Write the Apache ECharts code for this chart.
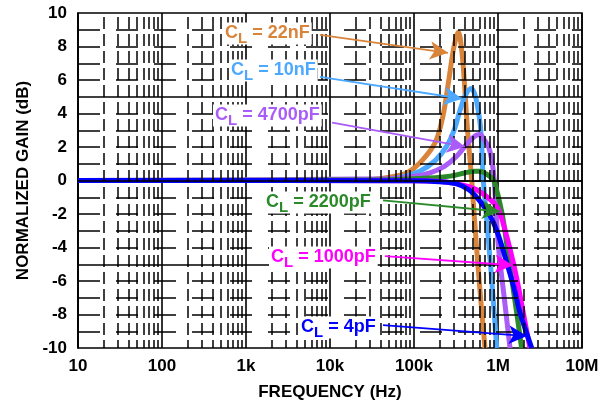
<!DOCTYPE html>
<html>
<head>
<meta charset="utf-8">
<script src="https://cdn.jsdelivr.net/npm/echarts@6/dist/echarts.min.js"></script>
<style>
  html, body { margin: 0; padding: 0; background: #fff; }
  #chart { width: 607px; height: 406px; }
</style>
</head>
<body>
<div id="chart"></div>
<script>
// gain curves: [frequency Hz, normalized gain dB]
const cl22nF = [[10, 0], [1e4, 0], [3e4, 0.05], [6e4, 0.25], [8.5e4, 0.5], [1.2e5, 1.1], [1.78e5, 2.25], [2.2e5, 3.8],
  [2.56e5, 5.8], [2.94e5, 7.8], [3.2e5, 8.6], [3.37e5, 8.85], [3.55e5, 8.5], [3.86e5, 6.8], [4.31e5, 3.2],
  [4.64e5, 1.25], [4.86e5, 0.05], [5.3e5, -2.6], [5.8e5, -5.2], [6.4e5, -7.8], [7.0e5, -10]]
const cl10nF = [[10, 0], [3e4, 0], [7e4, 0.2], [1.17e5, 0.55], [1.8e5, 1.2], [2.45e5, 2.05], [3.05e5, 3.1], [3.53e5, 4.2],
  [4.1e5, 5.1], [4.78e5, 5.5], [5.4e5, 5.0], [6.11e5, 3.45], [6.4e5, 2.04], [6.68e5, 0.06], [7.33e5, -2.3],
  [8.41e5, -5.9], [9.66e5, -10]]
const cl4700pF = [[10, 0], [5e4, 0.1], [1e5, 0.25], [1.55e5, 0.46], [2.3e5, 0.85], [3.22e5, 1.45], [4.3e5, 2.2],
  [5.3e5, 2.65], [6.11e5, 2.74], [6.9e5, 2.4], [7.68e5, 2.04], [8.41e5, 1.25], [9.0e5, 0.06], [1.01e6, -3.9],
  [1.18e6, -6.9], [1.39e6, -10]]
const cl2200pF = [[10, 0], [5e4, 0.05], [1.5e5, 0.15], [2.69e5, 0.26], [4e5, 0.45], [5.3e5, 0.55], [6.11e5, 0.55],
  [7.2e5, 0.4], [8.2e5, 0.2], [9.0e5, -0.04], [1.11e6, -1.9], [1.28e6, -3.9], [1.46e6, -5.9], [1.68e6, -8], [1.91e6, -10]]
const cl1000pF = [[10, 0], [1e5, -0.02], [2.5e5, -0.1], [4e5, -0.3], [5.57e5, -0.55], [8.04e5, -1.13], [1.01e6, -1.73],
  [1.25e6, -3.2], [1.52e6, -4.9], [1.76e6, -6.4], [2.0e6, -7.9], [2.4e6, -10]]
const cl4pF = [[10, 0], [1e5, -0.02], [2e5, -0.08], [3.22e5, -0.2], [4.5e5, -0.55], [5.8e5, -1.1], [8.04e5, -2.1],
  [1.0e6, -3.2], [1.27e6, -4.9], [1.55e6, -6.4], [1.83e6, -7.9], [2.52e6, -10]]

// arrow from label to curve: [start, tip] in data coordinates
const arrow22nF = [[7.6e3, 8.69], [2.54e5, 7.62]]
const arrow10nF = [[7.6e3, 6.19], [3.73e5, 4.88]]
const arrow4700pF = [[1.06e4, 3.45], [4.05e5, 2.02]]
const arrow2200pF = [[4.28e4, -1.19], [1.06e6, -1.85]]
const arrow1000pF = [[4.52e4, -4.52], [1.51e6, -5.06]]
const arrow4pF = [[4.28e4, -8.63], [2.21e6, -9.29]]

const xTickLabels = { 10: '10', 100: '100', 1000: '1k', 10000: '10k', 100000: '100k', 1000000: '1M', 10000000: '10M' }
const yTicks = [-10, -8, -6, -4, -2, 0, 2, 4, 6, 8, 10]

const chart = echarts.init(document.getElementById('chart'))
const font = '"Liberation Sans", Arial, sans-serif'

// minor grid: dashed lines at 2..9 of each decade and every 1 dB, solid every 5 dB
const gridLines = []
for (let d = 10; d < 1e7; d *= 10) {
  for (let m = 2; m <= 9; m++) {
    gridLines.push({ xAxis: d * m, lineStyle: { type: [12, 5], dashOffset: 4, color: '#000', width: 1.5 } })
  }
}
for (let v = -9; v <= 9; v++) {
  if (v % 5 === 0) {
    gridLines.push({ yAxis: v, lineStyle: { type: 'solid', color: '#000', width: 1.6 } })
  } else {
    gridLines.push({ yAxis: v, lineStyle: { type: [22, 16], color: '#000', width: 1.5 } })
  }
}

function curve (data, color, arrow) {
  return {
    type: 'line',
    data: data,
    smooth: 0.35,
    showSymbol: false,
    lineStyle: { color: color, width: 5 },
    markLine: {
      silent: true,
      symbol: ['none', 'arrow'],
      symbolSize: [14, 18],
      label: { show: false },
      lineStyle: { color: color, width: 1.8, type: 'solid' },
      itemStyle: { color: color },
      data: [[{ coord: arrow[0] }, { coord: arrow[1] }]]
    }
  }
}

function label (text, color, left, top) {
  return {
    type: 'text',
    left: left,
    top: top,
    z: 100,
    style: {
      text: '{c|C}{s|L}{c| = ' + text + '}',
      backgroundColor: '#fff',
      padding: [0, 2, 0, 2],
      rich: {
        c: { fontFamily: font, fontWeight: 'bold', fontSize: 18, fill: color, lineHeight: 22 },
        s: { fontFamily: font, fontWeight: 'bold', fontSize: 15, fill: color, lineHeight: 22, padding: [10, 0, 0, 0] }
      }
    }
  }
}

chart.setOption({
  animation: false,
  grid: {
    left: 78,
    right: 25,
    top: 13,
    bottom: 57,
    show: true,
    borderColor: '#000',
    borderWidth: 1.5,
    backgroundColor: '#fff'
  },
  xAxis: {
    type: 'log',
    logBase: 10,
    min: 10,
    max: 1e7,
    name: 'FREQUENCY (Hz)',
    nameLocation: 'middle',
    nameGap: 36,
    nameTextStyle: { fontFamily: font, fontWeight: 'bold', fontSize: 17, color: '#000' },
    axisLine: { lineStyle: { color: '#000', width: 1.5 } },
    axisTick: { show: false },
    axisLabel: {
      margin: 10,
      fontFamily: font,
      fontWeight: 'bold',
      fontSize: 17,
      color: '#000',
      formatter: function (v) { return xTickLabels[Math.round(v)] || '' }
    },
    splitLine: { show: true, lineStyle: { color: '#000', width: 1.6 } }
  },
  yAxis: {
    type: 'value',
    min: yTicks[0],
    max: yTicks[yTicks.length - 1],
    interval: 2,
    name: 'NORMALIZED GAIN (dB)',
    nameLocation: 'middle',
    nameGap: 42,
    nameTextStyle: { fontFamily: font, fontWeight: 'bold', fontSize: 17, color: '#000' },
    axisLine: { show: true, lineStyle: { color: '#000', width: 1.5 } },
    axisTick: { show: false },
    axisLabel: { margin: 11, fontFamily: font, fontWeight: 'bold', fontSize: 17, color: '#000' },
    splitLine: { show: false }
  },
  graphic: [
    label('22nF', '#d9843b', 223, 21),
    label('10nF', '#4da9ff', 229, 58),
    label('4700pF', '#a95cf7', 213, 103),
    label('2200pF', '#2a8a2a', 264, 190),
    label('1000pF', '#ff00ff', 269, 245),
    label('4pF', '#0000ff', 299, 315)
  ],
  series: [
    {
      type: 'line',
      data: [],
      silent: true,
      markLine: {
        silent: true,
        symbol: ['none', 'none'],
        label: { show: false },
        data: gridLines
      }
    },
    curve(cl22nF, '#d9843b', arrow22nF),
    curve(cl10nF, '#4da9ff', arrow10nF),
    curve(cl4700pF, '#a95cf7', arrow4700pF),
    curve(cl2200pF, '#2a8a2a', arrow2200pF),
    curve(cl1000pF, '#ff00ff', arrow1000pF),
    curve(cl4pF, '#0000ff', arrow4pF)
  ]
})
</script>
</body>
</html>
